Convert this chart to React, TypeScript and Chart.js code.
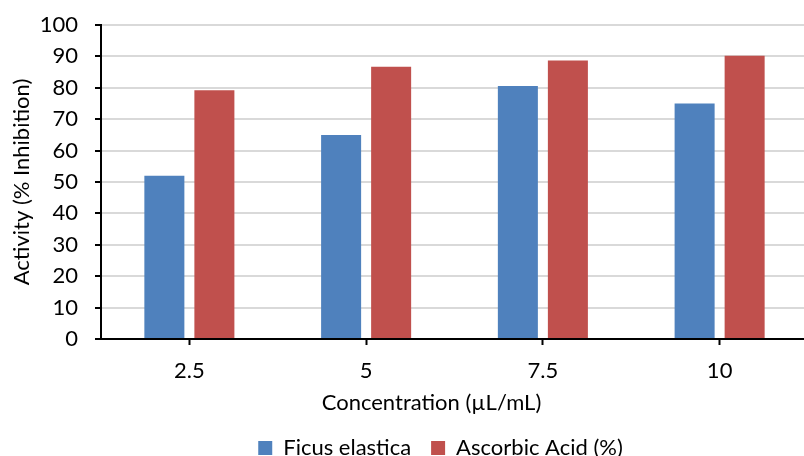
import React, { useEffect, useRef } from "react";
import { Chart, registerables } from "chart.js";

Chart.register(...registerables);

const categories = ["2.5", "5", "7.5", "10"];
const ficusValues = [52, 65, 80.6, 75];
const ascorbicValues = [79.2, 86.7, 88.7, 90.2];
const seriesNames = ["Ficus elastica", "Ascorbic Acid (%)"];
const yTitle = "Activity (% Inhibition)";
const xTitle = "Concentration (µL/mL)";
const yMin = 0;
const yMax = 100;
const yStep = 10;

const FONT = "Lato, Carlito, 'Open Sans', sans-serif";
const FS = 22;
const LEGEND_DX = -14;
const TITLE_DX = -23;

const shiftPlugin = {
  id: "shiftBoxes",
  afterLayout(chart: any) {
    const lg = chart.legend;
    if (lg) {
      lg.left += LEGEND_DX;
      lg.right += LEGEND_DX;
    }
    const tb = chart.titleBlock;
    if (tb) {
      tb.left += TITLE_DX;
      tb.right += TITLE_DX;
    }
  },
};

export default function App() {
  const ref = useRef<HTMLCanvasElement | null>(null);
  useEffect(() => {
    if (!ref.current) return;
    const chart = new Chart(ref.current, {
      type: "bar",
      data: {
        labels: categories,
        datasets: [
          {
            label: seriesNames[0],
            data: ficusValues,
            backgroundColor: "#4F81BD",
            borderWidth: 0,
          },
          {
            label: seriesNames[1],
            data: ascorbicValues,
            backgroundColor: "#C0504D",
            borderWidth: 0,
          },
        ],
      },
      plugins: [shiftPlugin],
      options: {
        animation: false,
        responsive: false,
        maintainAspectRatio: false,
        devicePixelRatio: 1,
        layout: { padding: { top: 25, left: 0, right: 0, bottom: 0 } },
        datasets: {
          bar: { categoryPercentage: 0.566, barPercentage: 0.8 },
        },
        scales: {
          x: {
            offset: true,
            grid: {
              display: true,
              offset: false,
              drawOnChartArea: false,
              drawTicks: true,
              tickLength: 6,
              tickColor: "#000",
              tickWidth: 2,
            },
            border: { display: true, color: "#000", width: 2 },
            ticks: {
              color: "#000",
              padding: 13,
              font: { family: FONT, size: FS },
            },
          },
          y: {
            min: yMin,
            max: yMax,
            afterFit: (scale: any) => {
              scale.width = 101;
              scale.paddingTop = 0;
              scale.paddingBottom = 0;
            },
            grid: {
              color: "#d9d9d9",
              lineWidth: 2,
              tickLength: 6,
              tickColor: "#000",
              tickWidth: 2,
            },
            border: { display: true, color: "#000", width: 2 },
            ticks: {
              stepSize: yStep,
              color: "#000",
              padding: 17,
              font: { family: FONT, size: FS },
            },
            title: {
              display: true,
              text: yTitle,
              color: "#000",
              padding: { top: 9, bottom: 0 },
              font: { family: FONT, size: FS },
            },
          },
        },
        plugins: {
          title: {
            display: true,
            text: xTitle,
            position: "bottom",
            fullSize: false,
            weight: 500,
            color: "#000",
            padding: { top: -5.4, bottom: 3 },
            font: { family: FONT, size: FS, weight: "normal", lineHeight: 1 },
          },
          legend: {
            display: true,
            position: "bottom",
            fullSize: false,
            labels: {
              boxWidth: 14,
              boxHeight: 14,
              padding: 20,
              color: "#000",
              font: { family: FONT, size: FS },
            },
          },
          tooltip: { enabled: false },
        },
      },
    });
    return () => chart.destroy();
  }, []);

  return (
    <div
      style={{
        position: "fixed",
        left: 0,
        top: 0,
        width: 804,
        height: 456,
        overflow: "hidden",
        background: "#fff",
      }}
    >
      <canvas ref={ref} width={808} height={469} style={{ width: 808, height: 469, display: "block" }} />
    </div>
  );
}
